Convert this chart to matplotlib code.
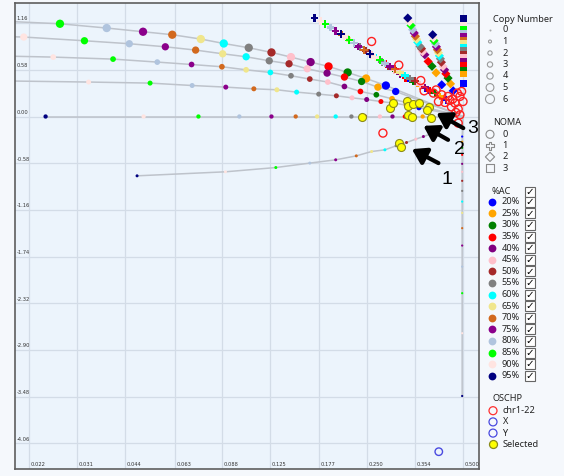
import matplotlib
matplotlib.use("Agg")
import matplotlib.pyplot as plt
from matplotlib.patches import Rectangle

# ---------------- data ----------------
ac_levels = [20, 25, 30, 35, 40, 45, 50, 55, 60, 65, 70, 75, 80, 85, 90, 95]
ac_colors = ["#0000FF", "#FFA500", "#008000", "#FF0000", "#800080", "#FFC0CB",
             "#A52A2A", "#808080", "#00FFFF", "#F0E68C", "#D2691E", "#8B008B",
             "#B0C4DE", "#00FF00", "#FFE4E1", "#000080"]

# copy number tracks, NOMA 0 (values ordered 20% -> 95% AC)
cn6_x = [0.287, 0.249, 0.218, 0.190, 0.167, 0.145, 0.126, 0.107, 0.0894, 0.0758,
         0.0617, 0.0500, 0.0385, 0.0275, 0.0185, 0.011]
cn6_y = [0.385, 0.472, 0.547, 0.622, 0.676, 0.738, 0.796, 0.854, 0.907, 0.962,
         1.016, 1.053, 1.099, 1.152, 1.183, 1.200]
cn5_x = [0.308, 0.271, 0.241, 0.213, 0.188, 0.163, 0.143, 0.124, 0.105, 0.0887,
         0.073, 0.0587, 0.0453, 0.0328, 0.0212, 0.0125]
cn5_y = [0.311, 0.365, 0.435, 0.490, 0.539, 0.593, 0.655, 0.692, 0.742, 0.779,
         0.825, 0.866, 0.904, 0.941, 0.987, 1.010]
cn4_x = [0.334, 0.300, 0.268, 0.239, 0.213, 0.189, 0.166, 0.145, 0.125, 0.105,
         0.0882, 0.0709, 0.0554, 0.0403, 0.0262, 0.0125]
cn4_y = [0.170, 0.220, 0.270, 0.311, 0.373, 0.428, 0.465, 0.506, 0.547, 0.580,
         0.618, 0.646, 0.676, 0.713, 0.738, 0.765]
cn3_x = [0.364, 0.332, 0.302, 0.277, 0.250, 0.225, 0.201, 0.177, 0.151, 0.131,
         0.111, 0.0907, 0.0712, 0.0526, 0.0338, 0.013]
cn3_y = [0.108, 0.142, 0.167, 0.186, 0.211, 0.232, 0.257, 0.278, 0.303, 0.332,
         0.344, 0.365, 0.385, 0.415, 0.428, 0.450]
cn2_x = [0.400, 0.374, 0.352, 0.329, 0.301, 0.275, 0.247, 0.224, 0.200, 0.175,
         0.150, 0.126, 0.100, 0.0745, 0.0502, 0.0248]
cn2_y = [0.0] * 16
cn1_x = [0.444, 0.423, 0.412, 0.397, 0.376, 0.356, 0.333, 0.309, 0.285, 0.259,
         0.232, 0.200, 0.166, 0.130, 0.0905, 0.0479]
cn1_y = [-0.103, -0.157, -0.184, -0.216, -0.249, -0.281, -0.323, -0.364, -0.414, -0.435,
         -0.489, -0.538, -0.579, -0.634, -0.687, -0.737]
cn0_x = [0.497] * 16
cn0_y = [-0.249, -0.314, -0.389, -0.476, -0.588, -0.687, -0.799, -0.924, -1.057, -1.197,
         -1.387, -1.603, -1.865, -2.195, -2.692, -3.472]
normal_x, normal_y = 0.5, 0.0

# NOMA tracks
noma1a_x = [0.337, 0.318, 0.302, 0.287, 0.273, 0.259, 0.249, 0.238, 0.228, 0.218,
            0.209, 0.200, 0.193, 0.185, 0.179, 0.172]
noma1a_y = [0.481, 0.543, 0.599, 0.655, 0.711, 0.767, 0.817, 0.866, 0.916, 0.966,
            1.016, 1.065, 1.103, 1.149, 1.186, 1.223]
noma1b_x = [0.389, 0.367, 0.349, 0.331, 0.318, 0.304, 0.291, 0.279, 0.267, 0.256,
            0.245, 0.235, 0.228, 0.2205, 0.213, 0.2075]
noma1b_y = [0.320, 0.376, 0.432, 0.481, 0.531, 0.580, 0.630, 0.680, 0.730, 0.779,
            0.829, 0.870, 0.912, 0.953, 0.991, 1.024]
noma1c_x = [0.442, 0.423, 0.409, 0.394, 0.380, 0.367, 0.354, 0.341, 0.329, 0.318,
            0.306, 0.296, 0.285, 0.275, 0.265, 0.256]
noma1c_y = [0.208, 0.251, 0.289, 0.326, 0.363, 0.400, 0.438, 0.475, 0.512, 0.549,
            0.587, 0.624, 0.661, 0.699, 0.736, 0.776]
noma2a_x = [0.429, 0.412, 0.400, 0.389, 0.380, 0.374, 0.371, 0.367, 0.361, 0.358,
            0.355, 0.352, 0.348, 0.344, 0.340, 0.336]
noma2a_y = [0.394, 0.543, 0.624, 0.684, 0.767, 0.804, 0.842, 0.870, 0.922, 0.960,
            0.997, 1.037, 1.078, 1.131, 1.177, 1.223]
noma2b_x = [0.466, 0.457, 0.449, 0.442, 0.438, 0.433, 0.428, 0.425, 0.422, 0.419,
            0.416, 0.413, 0.410, 0.406, 0.404, 0.402]
noma2b_y = [0.319, 0.406, 0.477, 0.531, 0.580, 0.622, 0.674, 0.717, 0.754, 0.792,
            0.829, 0.866, 0.904, 0.941, 0.978, 1.016]
noma3_x = [0.5] * 16
noma3_y = [0.406, 0.531, 0.605, 0.661, 0.717, 0.767, 0.817, 0.860, 0.904, 0.947,
           0.991, 1.034, 1.078, 1.119, 1.171, 1.223]

# OSCHP segments
chr_x = [0.259, 0.315, 0.369, 0.281, 0.404, 0.429, 0.449, 0.464, 0.480, 0.495, 0.472,
         0.483, 0.489, 0.483, 0.439, 0.419, 0.489, 0.500, 0.378, 0.412, 0.460, 0.475, 0.455]
chr_y = [0.932, 0.639, 0.447, -0.206, 0.291, 0.270, 0.249, 0.216, 0.291, 0.311, 0.167,
         0.092, 0.021, -0.082, 0.174, 0.186, 0.249, 0.186, 0.319, 0.330, 0.120, 0.050, 0.200]
chrX_x, chrX_y = [0.420], [-4.164]
sel_x = [0.241, 0.296, 0.303, 0.333, 0.337, 0.349, 0.364, 0.392, 0.385, 0.337, 0.346,
         0.396, 0.316, 0.319]
sel_y = [-0.008, 0.104, 0.167, 0.195, 0.133, 0.154, 0.162, 0.124, 0.083, 0.021, 0.0,
         -0.020, -0.323, -0.373]

# arrows: (label, tip, tail, label position)
arrow_labels = ["3", "2", "1"]
arrow_tips = [(0.413, 0.042), (0.376, -0.116), (0.346, -0.405)]
arrow_tails = [(0.501, -0.144), (0.449, -0.290), (0.419, -0.579)]
arrow_text = [(0.537, -0.153), (0.488, -0.414), (0.445, -0.787)]

xticks = [0.022, 0.031, 0.044, 0.063, 0.088, 0.125, 0.177, 0.250, 0.354, 0.500]
yticks = [1.16, 0.58, 0.00, -0.58, -1.16, -1.74, -2.32, -2.90, -3.48, -4.06]

cn_labels = ["0", "1", "2", "3", "4", "5", "6"]
noma_labels = ["0", "1", "2", "3"]
oschp_labels = ["chr1-22", "X", "Y", "Selected"]

# ---------------- plot ----------------
W, H = 564, 476
fig = plt.figure(figsize=(W / 100, H / 100), dpi=100)
fig.patch.set_facecolor("#F5F8FC")
ax = fig.add_axes([15 / W, 7 / H, 464 / W, 466 / H])
ax.set_facecolor("#ECF4FC")
ax.set_xscale("log", base=2)
ax.set_xlim(0.0199, 0.561)
ax.set_ylim(-4.379, 1.41)
ax.set_xticks(xticks)
ax.set_yticks(yticks)
ax.set_xticklabels([])
ax.set_yticklabels([])
ax.minorticks_off()
ax.tick_params(length=0)
ax.grid(True, color="#D3DCE7", lw=0.9)
ax.set_axisbelow(True)
for s in ax.spines.values():
    s.set_color("#5E5E5E")
    s.set_linewidth(1.2)

for v in xticks:
    ax.annotate(f"{v:.3f}", xy=(v, 0), xycoords=("data", "axes fraction"),
                xytext=(1.2, 1.5), textcoords="offset points",
                fontsize=3.7, color="#333333", ha="left", va="bottom")
for v in yticks:
    ax.annotate(f"{v:.2f}", xy=(0, v), xycoords=("axes fraction", "data"),
                xytext=(1.2, 1.2), textcoords="offset points",
                fontsize=3.7, color="#333333", ha="left", va="bottom")

line_col = "#BEC3CB"
tracks = [(cn6_x, cn6_y, 8.3), (cn5_x, cn5_y, 7.3), (cn4_x, cn4_y, 5.7),
          (cn3_x, cn3_y, 5.0), (cn2_x, cn2_y, 4.3), (cn1_x, cn1_y, 3.0),
          (cn0_x, cn0_y, 2.2)]
for tx, ty, d in tracks:
    ax.plot([normal_x] + tx, [normal_y] + ty, color=line_col, lw=1.1, zorder=2)
for tx, ty, d in tracks:
    ax.scatter(tx, ty, s=(d * 0.72) ** 2, c=ac_colors[:len(tx)], linewidths=0, zorder=3)

for tx, ty in [(noma1a_x, noma1a_y), (noma1b_x, noma1b_y), (noma1c_x, noma1c_y)]:
    ax.scatter(tx, ty, s=(7.5 * 0.72) ** 2, c=ac_colors, marker="P", linewidths=0, zorder=4)
for tx, ty in [(noma2a_x, noma2a_y), (noma2b_x, noma2b_y)]:
    ax.scatter(tx, ty, s=(6.5 * 0.72) ** 2, c=ac_colors, marker="D", linewidths=0, zorder=4)
ax.scatter(noma3_x, noma3_y, s=(7 * 0.72) ** 2, c=ac_colors, marker="s", linewidths=0, zorder=4)

ax.scatter(chr_x, chr_y, s=(8 * 0.72) ** 2, facecolors="none", edgecolors="#FF2020",
           linewidths=1.0, zorder=5)
ax.scatter(chrX_x, chrX_y, s=(7.5 * 0.72) ** 2, facecolors="none", edgecolors="#4A4AE0",
           linewidths=1.0, zorder=5)
ax.scatter(sel_x, sel_y, s=(8 * 0.72) ** 2, facecolors="#FFFF00", edgecolors="#8A8A1A",
           linewidths=0.8, zorder=6)

for lab, tip, tail, tp in zip(arrow_labels, arrow_tips, arrow_tails, arrow_text):
    ax.annotate("", xy=tip, xytext=tail,
                arrowprops=dict(arrowstyle="-|>,head_length=0.6,head_width=0.38",
                                lw=3.0, color="black", shrinkA=0, shrinkB=0,
                                mutation_scale=14), zorder=7)
    ax.text(tp[0], tp[1], lab, fontsize=14, family="Liberation Sans",
            ha="center", va="center", zorder=7)

# ---------------- legend panel (pixel coordinates) ----------------
lax = fig.add_axes([0, 0, 1, 1])
lax.set_xlim(0, W)
lax.set_ylim(H, 0)
lax.axis("off")
lax.patch.set_alpha(0)
tfont = dict(fontsize=6.6, family="Noto Sans", color="#222222", va="center")


def checkbox(x, y):
    lax.add_patch(Rectangle((x - 5, y - 5), 10, 10, facecolor="white",
                            edgecolor="#666666", lw=0.8))
    lax.text(x, y + 0.3, "\u2713", fontsize=7.5, family="DejaVu Sans",
             ha="center", va="center", color="black")


lax.text(493, 19, "Copy Number", **tfont)
cn_sizes = [2.0, 3.0, 4.3, 5.3, 6.3, 7.8, 9.0]
for i, lab in enumerate(cn_labels):
    y = 30 + i * 11.5
    if i == 0:
        lax.scatter([490], [y], s=(cn_sizes[i] * 0.72) ** 2, c="#AAAAAA", linewidths=0)
    else:
        lax.scatter([490], [y], s=(cn_sizes[i] * 0.72) ** 2, facecolors="none",
                    edgecolors="#999999", linewidths=0.8)
    lax.text(502.5, y, lab, **tfont)

lax.text(493, 122.5, "NOMA", **tfont)
for i, (lab, mk) in enumerate(zip(noma_labels, ["o", "P", "D", "s"])):
    y = 134.3 + i * 11.3
    lax.scatter([490], [y], s=(8 * 0.72) ** 2 if mk != "D" else (6.5 * 0.72) ** 2,
                marker=mk, facecolors="none", edgecolors="#8A8A8A", linewidths=0.8)
    lax.text(502.5, y, lab, **tfont)

lax.text(492, 191.5, "%AC", **tfont)
checkbox(529.5, 191.5)
for i, (lev, col) in enumerate(zip(ac_levels, ac_colors)):
    y = 201.7 + i * 11.6
    lax.scatter([491.5], [y], s=(7.8 * 0.72) ** 2, c=col, linewidths=0)
    lax.text(501.5, y, f"{lev}%", **tfont)
    checkbox(529.5, y)

lax.text(492.5, 398.5, "OSCHP", **tfont)
osc_face = ["none", "none", "none", "#FFFF00"]
osc_edge = ["#FF3030", "#4A4AE0", "#4A4AE0", "#8A8A1A"]
for i, lab in enumerate(oschp_labels):
    y = 410.7 + i * 11.2
    lax.scatter([493], [y], s=(8 * 0.72) ** 2, facecolors=osc_face[i],
                edgecolors=osc_edge[i], linewidths=0.9)
    lax.text(502.5, y, lab, **tfont)

fig.savefig("out.png", dpi=100, facecolor=fig.get_facecolor())
